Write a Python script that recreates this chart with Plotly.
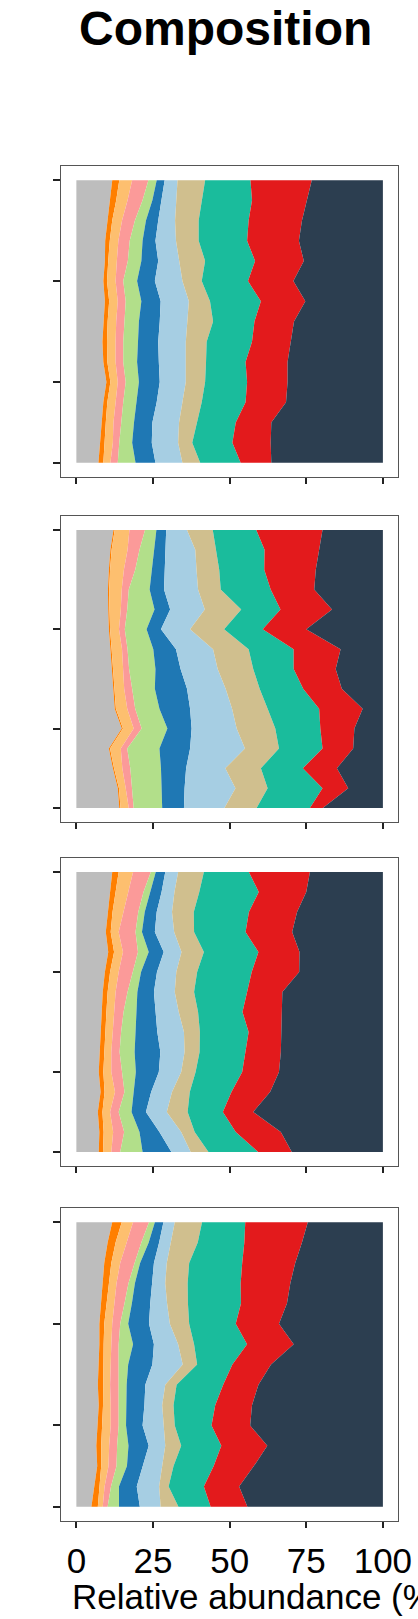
import plotly.graph_objects as go

# ---------------- data ----------------
title_text = "Composition"
x_title = "Relative abundance (%)"

taxa = ["Other", "Taxon 1", "Taxon 2", "Taxon 3", "Taxon 4", "Taxon 5",
        "Taxon 6", "Taxon 7", "Taxon 8", "Taxon 9", "Taxon 10"]
colors = ["#bdbdbd", "#ff7f00", "#fdbf6f", "#fb9a99", "#b2df8a", "#1f78b4",
          "#a6cee3", "#d0bf8e", "#1abc9c", "#e31a1c", "#2c3e50"]

depths = [0, 2, 4, 6, 8, 10, 12, 14, 16, 18, 20, 22, 24, 26, 28]
y_ticks = [0, 10, 20, 28]
x_ticks = [0, 25, 50, 75, 100]
x_tick_labels = ["0", "25", "50", "75", "100"]

# each row = relative abundance (%) of the 11 taxa at one depth
panel1_rows = [
    [11.7, 2.3, 4.2, 5.3, 2.7, 2.6, 4.2, 9.0, 14.8, 20.0, 23.2],
    [10.9, 2.1, 3.7, 4.9, 3.2, 2.9, 4.8, 8.4, 16.4, 17.9, 24.8],
    [10.0, 1.7, 3.2, 4.2, 3.6, 4.0, 5.5, 7.7, 16.3, 17.4, 26.4],
    [9.4, 1.5, 2.8, 3.7, 4.2, 4.2, 6.7, 7.4, 15.8, 16.9, 27.4],
    [9.3, 1.1, 2.8, 3.6, 4.4, 5.5, 6.8, 8.5, 16.3, 15.9, 25.8],
    [8.8, 1.2, 2.8, 2.5, 4.5, 5.8, 9.0, 6.3, 15.1, 14.8, 29.2],
    [9.3, 1.4, 2.8, 2.6, 5.1, 6.3, 9.2, 6.9, 16.6, 14.5, 25.3],
    [8.8, 1.4, 2.8, 2.6, 4.8, 6.8, 9.0, 8.4, 13.5, 12.9, 29.0],
    [8.5, 1.5, 2.8, 2.5, 4.8, 6.6, 9.0, 6.8, 14.8, 12.6, 30.1],
    [8.8, 1.3, 2.7, 2.5, 4.5, 7.1, 8.8, 6.6, 12.9, 13.7, 31.1],
    [9.8, 1.3, 2.4, 2.6, 4.3, 6.8, 8.5, 6.3, 13.7, 13.2, 31.1],
    [8.8, 1.3, 2.7, 2.5, 4.2, 6.7, 8.4, 6.3, 14.3, 13.2, 31.6],
    [8.2, 1.4, 2.5, 2.5, 4.2, 6.0, 8.7, 5.8, 12.7, 11.6, 36.4],
    [7.7, 1.6, 2.6, 2.1, 4.2, 6.4, 8.6, 4.6, 13.1, 12.5, 36.6],
    [7.2, 1.6, 2.3, 2.4, 5.8, 6.5, 8.8, 5.8, 13.2, 10.0, 36.4],
]

panel2_rows = [
    [12.1, 0.4, 4.8, 5.1, 3.7, 3.2, 6.8, 8.4, 14.2, 21.6, 19.7],
    [11.1, 0.4, 5.2, 3.9, 4.7, 3.7, 9.8, 6.8, 15.8, 17.9, 20.7],
    [10.6, 0.4, 4.5, 3.7, 5.3, 4.2, 10.5, 7.4, 14.7, 16.8, 21.9],
    [10.3, 0.4, 4.1, 2.3, 6.8, 4.7, 11.1, 7.4, 16.3, 14.2, 22.4],
    [10.4, 0.4, 3.7, 2.1, 8.9, 5.1, 11.3, 11.9, 12.8, 16.8, 16.6],
    [10.6, 0.4, 2.9, 1.9, 7.1, 4.7, 9.5, 11.1, 12.6, 14.2, 25.0],
    [11.1, 0.4, 3.4, 1.8, 8.4, 7.4, 12.1, 11.6, 14.7, 15.3, 13.8],
    [11.5, 0.4, 3.4, 1.9, 8.6, 8.2, 12.1, 11.6, 13.2, 13.7, 15.4],
    [11.9, 0.4, 3.3, 2.6, 7.4, 10.5, 12.6, 11.1, 14.2, 12.6, 13.4],
    [12.5, 0.4, 3.7, 2.6, 7.9, 10.0, 13.7, 11.6, 16.8, 14.2, 6.6],
    [14.8, 0.4, 3.5, 2.6, 8.4, 7.9, 14.7, 12.6, 14.7, 11.1, 9.3],
    [10.6, 0.4, 3.5, 2.1, 10.5, 10.0, 17.9, 11.1, 14.2, 10.0, 9.7],
    [11.9, 0.4, 2.7, 2.6, 10.0, 8.2, 12.8, 11.6, 13.7, 11.1, 15.0],
    [13.5, 0.4, 2.2, 2.1, 9.7, 7.4, 16.6, 10.5, 17.9, 8.4, 11.3],
    [14.0, 0.4, 2.7, 1.6, 9.3, 7.1, 13.2, 10.5, 17.4, 4.2, 19.6],
]

panel3_rows = [
    [11.7, 2.1, 4.7, 5.8, 1.6, 3.1, 4.2, 8.4, 14.7, 19.9, 23.8],
    [11.0, 1.8, 4.2, 4.9, 2.1, 3.8, 4.2, 8.1, 19.4, 15.5, 25.0],
    [10.2, 1.6, 3.7, 4.7, 2.1, 3.9, 5.0, 7.1, 18.0, 15.7, 28.0],
    [9.6, 1.6, 2.6, 5.5, 2.1, 4.2, 6.3, 6.5, 16.8, 15.2, 29.6],
    [10.4, 1.9, 2.9, 4.9, 3.5, 4.9, 5.8, 7.3, 17.8, 13.4, 27.2],
    [9.3, 1.7, 2.8, 4.7, 2.6, 5.2, 6.3, 6.8, 17.8, 15.5, 27.3],
    [8.6, 1.6, 2.6, 3.9, 3.2, 5.4, 6.8, 6.3, 17.3, 11.5, 32.8],
    [8.3, 1.5, 2.5, 3.1, 4.2, 6.3, 7.5, 6.3, 14.5, 12.8, 33.0],
    [7.9, 1.5, 2.4, 2.8, 4.8, 7.0, 8.7, 5.2, 15.9, 10.5, 33.3],
    [7.5, 1.6, 2.3, 2.7, 4.9, 8.4, 7.9, 4.9, 15.0, 11.5, 33.3],
    [7.3, 1.5, 2.6, 3.5, 4.5, 7.5, 7.3, 4.7, 15.2, 12.0, 33.9],
    [7.9, 1.3, 3.4, 3.1, 2.9, 5.8, 6.8, 5.8, 13.6, 12.6, 36.8],
    [7.0, 1.5, 2.5, 2.8, 4.2, 4.7, 6.8, 6.8, 11.5, 9.9, 42.3],
    [7.5, 1.4, 3.1, 3.6, 5.0, 6.5, 7.1, 4.4, 13.4, 14.7, 33.3],
    [7.3, 1.4, 2.7, 2.9, 7.3, 9.4, 6.3, 5.8, 16.2, 11.0, 29.7],
]

panel4_rows = [
    [11.7, 3.1, 3.7, 5.2, 1.9, 2.8, 3.7, 8.9, 14.1, 20.4, 24.5],
    [10.2, 2.6, 3.7, 4.7, 2.4, 3.4, 3.7, 8.9, 15.2, 18.8, 26.4],
    [9.1, 2.3, 2.9, 4.7, 1.8, 4.5, 4.2, 7.3, 17.3, 17.3, 28.6],
    [8.6, 2.1, 2.4, 3.9, 2.1, 5.5, 4.4, 7.3, 17.3, 16.2, 30.2],
    [8.1, 1.9, 2.3, 3.4, 2.4, 6.0, 5.5, 6.8, 17.3, 15.0, 31.3],
    [7.5, 1.6, 2.6, 2.6, 2.6, 6.8, 6.8, 6.3, 15.2, 14.1, 33.9],
    [7.5, 1.4, 2.5, 2.4, 4.7, 6.8, 7.9, 5.2, 17.3, 15.2, 29.1],
    [7.3, 1.6, 2.3, 2.6, 3.1, 7.9, 9.9, 4.7, 11.5, 12.6, 36.5],
    [7.0, 1.7, 2.3, 2.6, 2.8, 6.1, 6.5, 3.7, 15.2, 11.5, 40.6],
    [7.3, 1.4, 2.5, 2.6, 2.6, 5.8, 5.8, 3.7, 13.6, 12.0, 42.7],
    [6.8, 1.6, 2.8, 2.6, 2.4, 5.4, 6.8, 3.7, 12.0, 12.6, 43.3],
    [6.5, 1.6, 2.6, 2.6, 3.7, 6.6, 5.4, 5.2, 13.1, 15.0, 37.7],
    [6.8, 1.3, 2.4, 2.6, 3.4, 5.2, 6.3, 3.7, 13.1, 13.1, 42.1],
    [5.8, 1.8, 1.6, 2.1, 2.6, 5.8, 7.3, 3.1, 11.5, 11.5, 46.9],
    [4.9, 2.1, 1.6, 1.6, 3.7, 6.8, 6.8, 5.8, 10.5, 12.0, 44.2],
]

panels = [panel1_rows, panel2_rows, panel3_rows, panel4_rows]

# ---------------- layout geometry ----------------
W, H = 418, 1619
FONT = "Liberation Sans, Arial, sans-serif"
x_dom = [63 / W, 411 / W]
frames_px = [(166, 477), (516, 822), (858, 1166), (1208, 1521)]

fig = go.Figure()

for p, rows in enumerate(panels):
    ax = "" if p == 0 else str(p + 1)
    for s, name in enumerate(taxa):
        fig.add_trace(go.Scatter(
            x=[r[s] for r in rows], y=depths,
            stackgroup=f"panel{p + 1}", orientation="h",
            mode="lines", line=dict(width=0, color=colors[s]),
            fillcolor=colors[s], name=name, showlegend=False,
            xaxis="x" + ax, yaxis="y" + ax,
            hoverinfo="skip",
        ))

layout = dict(
    width=W, height=H,
    margin=dict(l=0, r=0, t=0, b=0),
    paper_bgcolor="white", plot_bgcolor="white",
    font=dict(family=FONT, color="black"),
    showlegend=False,
)

for p, (top, bot) in enumerate(frames_px):
    ax = "" if p == 0 else str(p + 1)
    y_dom = [1 - bot / H, 1 - top / H]
    last = p == len(frames_px) - 1
    layout["xaxis" + ax] = dict(
        domain=x_dom, anchor="y" + ax, range=[-5, 105],
        tickmode="array", tickvals=x_ticks, ticktext=x_tick_labels,
        showticklabels=last, ticks="outside", ticklen=6, tickwidth=1.5,
        tickcolor="#222", showline=True, mirror=True, linecolor="#555",
        linewidth=1, showgrid=False, zeroline=False,
        ticklabeloverflow="allow", ticklabelstandoff=3,
        tickfont=dict(size=35, family=FONT, color="black"),
    )
    layout["yaxis" + ax] = dict(
        domain=y_dom, anchor="x" + ax, range=[29.4, -1.4],
        tickmode="array", tickvals=y_ticks, showticklabels=False,
        ticks="outside", ticklen=7, tickwidth=1.5, tickcolor="#222",
        showline=True, mirror=True, linecolor="#555", linewidth=1,
        showgrid=False, zeroline=False,
    )

layout["annotations"] = [
    dict(text="<b>" + title_text + "</b>", x=233 / W, y=1 - 28 / H,
         xref="paper", yref="paper", xanchor="center", yanchor="middle",
         showarrow=False, font=dict(size=48, family=FONT, color="black")),
    dict(text=x_title, x=72 / W, y=1 - 1596 / H,
         xref="paper", yref="paper", xanchor="left", yanchor="middle",
         showarrow=False, font=dict(size=35, family=FONT, color="black")),
]

fig.update_layout(**layout)
fig.write_html(
    "out.html",
    config={"displayModeBar": False},
    post_script="document.body.style.margin='0';"
                "document.body.style.overflow='hidden';",
)
